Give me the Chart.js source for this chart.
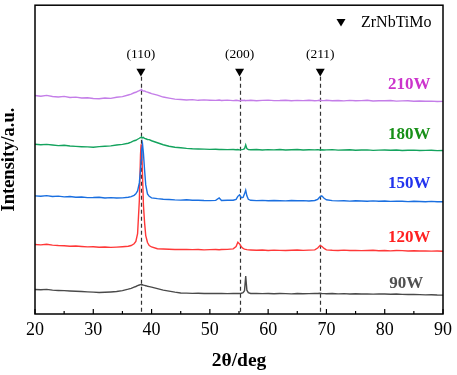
<!DOCTYPE html>
<html>
<head>
<meta charset="utf-8">
<script src="https://cdn.jsdelivr.net/npm/chart.js@4.4.1/dist/chart.umd.min.js"></script>
<style>
  html, body { margin: 0; padding: 0; background: #fff; }
  #wrap { width: 457px; height: 375px; position: relative; }
</style>
</head>
<body>
<div id="wrap"><canvas id="xrd"></canvas></div>
<script>
// 2theta positions shared by every pattern (denser around the peaks)
const twoTheta = [
  20,21,22,23,24,25,26,27,28,29,30,31,32,33,34,35,36,
  36.5,37,37.3,37.6,37.9,38.1,38.2,38.3,38.45,38.6,38.8,39.0,39.3,39.6,
  40,41,42,43,44,45,46,47,48,49,50,51,
  51.6,
  52,53,54,
  54.5,54.8,55.1,55.4,55.7,55.95,56.15,56.35,56.6,
  57,58,59,60,61,62,63,64,65,66,67,68,
  68.5,68.9,69.2,69.6,
  70,71,72,73,74,75,76,77,78,79,80,81,82,83,84,85,86,87,88,89,90
]

// intensities (a.u., already stacked with offsets)
const w210 = [
  220,219.3,220.2,219,218.6,219.2,218,218.4,217.5,217.8,217,216.8,217.6,217.2,218.3,218.9,220.6,
  221.5,222.8,223.3,224.2,225,225.6,225.2,225.8,225,224.6,224.7,224,223.4,222.8,
  222,220.4,218.5,217.4,216.4,216,215.6,215.9,215.2,215.6,215.3,215.1,
  215.5,
  215,215.4,214.9,
  215.2,215,214.7,215.3,215,215.2,214.8,215.1,215,
  215.3,214.8,215.1,215.4,214.9,215,215.3,214.7,215.1,214.9,215.2,214.8,
  215,215.3,215,214.9,
  215.2,214.8,215,214.6,215.1,214.7,214.9,215.2,214.5,214.8,214.7,215,214.4,214.6,214.8,214.3,214.5,214.2,214.4,214,214.1
]
const w180 = [
  171,170.5,170.8,170.2,169.6,169.9,169.2,168.8,168.5,168.3,168,168.6,169,169.3,170.2,170.8,172,
  173,174.5,175,176,177,177.8,177.5,178.2,177.3,177.8,176.8,176.5,175.8,175.6,
  174.5,172.5,170.5,169,168,167.4,166.8,166.4,166.2,166,165.8,165.9,
  165.6,
  165.8,165.5,165.7,
  165.4,165.6,165.3,165.5,165.8,166.5,170.4,166.5,165.5,
  165.4,165.6,165.2,165.5,165.3,165.6,165.1,165.4,165.6,165.2,165.4,165.3,
  165.5,165.2,165.4,165.1,
  165.3,165.5,165,165.2,165.4,164.9,165.1,165.3,164.8,165,165.2,164.9,165.1,164.7,164.9,165,164.6,164.8,164.9,164.5,164.6
]
const w150 = [
  119,118.6,119.2,118.3,118.7,118,118.4,117.6,117.9,117.2,117.3,117.6,116.9,117.2,116.8,117,117.6,
  118.2,119.5,121,124,132,145,155,165,171,162,145,130,121,118.5,
  117,116.2,115.6,115.3,114.9,114.7,115,114.5,114.6,114.3,114.2,114.4,
  116.8,
  114.3,114.5,114.6,
  115.5,118.5,120,117.2,117.5,121,124.7,119,115.5,
  114.5,114.2,114.4,114,114.3,114.1,113.9,114.3,114,114.2,113.8,114.3,
  115.5,118,119,116.5,
  115,114.2,113.9,114.1,113.7,114,113.8,113.5,113.9,113.6,113.8,113.4,113.7,113.5,113.2,113.6,113.3,113.1,113.4,113,113
]
const w120 = [
  70,69.6,70.2,69.4,69,68.8,68.3,68.5,68,67.6,67.8,67.3,67.5,67.1,67.4,67.8,68.3,
  69,70.7,73,81,114,160,171,165,140,110,92,79,72,69,
  67.5,65.7,65.4,65.2,65,64.9,65.1,64.8,64.9,64.6,64.8,64.9,
  64.7,
  65,65.1,65.6,
  68,72.3,70.5,67.6,66,65.4,65.1,64.8,64.6,
  64.5,64.2,64.4,64,64.3,64.1,63.9,64.2,64.4,64.1,64.3,64.6,
  66.5,69,68.2,66,
  64.6,64.2,64,64.3,63.9,64.1,63.8,64,64.2,63.7,63.9,63.6,64,63.8,63.5,63.7,63.4,63.6,63.3,63.5,63.2
]
const w90 = [
  24.7,24.4,24.8,24,23.7,23.5,23.2,22.9,22.6,22.3,22,21.7,21.9,22.2,22.6,23.6,25,
  25.8,27,27.7,28.5,29.2,29.6,29.7,29.4,29.5,29.1,28.8,28.5,28,27.6,
  27,25.5,24,23,22,21.2,21,20.8,20.9,20.6,20.7,20.8,
  20.6,
  20.7,20.5,20.7,
  20.6,20.8,20.7,20.9,21.5,23.5,38.3,24,21.5,
  20.7,20.6,20.5,20.7,20.4,20.6,20.5,20.3,20.6,20.4,20.5,20.6,
  20.7,20.9,20.7,20.5,
  20.4,20.6,20.3,20.5,20.2,20.4,20.1,20.3,20,20.2,20.1,19.9,20.1,19.8,19.6,19.8,19.5,19.3,19.4,19.1,19
]

// ZrNbTiMo reflections
const peakPos = [38.17, 55.1, 68.94]
const peakHkl = ['(110)', '(200)', '(211)']

const seriesNames = ['210W', '180W', '150W', '120W', '90W']
const seriesData = [w210, w180, w150, w120, w90]
const lineColors = ['#c47ee8', '#14a35e', '#1a6fe0', '#ff3838', '#4a4a4a']
const labelColors = ['#cc33cc', '#189018', '#2233ee', '#ff2020', '#505050']
// where the power labels sit (data coords)
const labelX = [84.2, 84.2, 84.2, 84.2, 83.7]
const labelY = [231, 181, 131, 77, 31]

const serif = '"Liberation Serif", "Times New Roman", serif'

function pts(ys) {
  return twoTheta.map((x, i) => ({ x: x, y: ys[i] }))
}

const datasets = seriesData.map((ys, i) => ({
  label: seriesNames[i],
  data: pts(ys),
  borderColor: lineColors[i],
  borderWidth: 1.4,
  pointRadius: 0,
  tension: 0,
  fill: false
}))

// triangle markers above the dashed lines
datasets.push({
  label: 'ZrNbTiMo',
  type: 'scatter',
  data: peakPos.map(p => ({ x: p, y: 244.5 })),
  pointStyle: 'triangle',
  rotation: 180,
  pointRadius: 5.2,
  backgroundColor: '#000',
  borderColor: '#000',
  borderWidth: 0
})

const decor = {
  id: 'decor',
  beforeDatasetsDraw(chart) {
    const { ctx, chartArea, scales } = chart
    const x = scales.x, y = scales.y
    ctx.save()
    ctx.strokeStyle = '#333'
    ctx.lineWidth = 1.2
    ctx.setLineDash([4, 3])
    peakPos.forEach(p => {
      const px = Math.round(x.getPixelForValue(p)) + 0.5
      ctx.beginPath()
      ctx.moveTo(px, y.getPixelForValue(239))
      ctx.lineTo(px, chartArea.bottom)
      ctx.stroke()
    })
    ctx.restore()
  },
  afterDraw(chart) {
    const { ctx, chartArea, scales } = chart
    const x = scales.x, y = scales.y
    ctx.save()
    // frame
    ctx.strokeStyle = '#000'
    ctx.lineWidth = 1.5
    ctx.strokeRect(chartArea.left, chartArea.top, chartArea.right - chartArea.left, chartArea.bottom - chartArea.top)
    // inward ticks
    ctx.lineWidth = 1.2
    for (let v = 20; v <= 90; v += 5) {
      const px = x.getPixelForValue(v)
      const len = v % 10 === 0 ? 5 : 3
      ctx.beginPath()
      ctx.moveTo(px, chartArea.bottom)
      ctx.lineTo(px, chartArea.bottom - len)
      ctx.stroke()
    }
    // hkl labels
    ctx.fillStyle = '#000'
    ctx.font = '13.5px ' + serif
    ctx.textAlign = 'center'
    ctx.textBaseline = 'middle'
    peakPos.forEach((p, i) => {
      ctx.fillText(peakHkl[i], x.getPixelForValue(p), y.getPixelForValue(261))
    })
    // power labels
    ctx.font = 'bold 17px ' + serif
    seriesNames.forEach((n, i) => {
      ctx.fillStyle = labelColors[i]
      ctx.fillText(n, x.getPixelForValue(labelX[i]), y.getPixelForValue(labelY[i]))
    })
    // legend
    const lx = x.getPixelForValue(72.5), ly = y.getPixelForValue(294)
    ctx.fillStyle = '#000'
    ctx.beginPath()
    ctx.moveTo(lx - 4.5, ly - 3)
    ctx.lineTo(lx + 4.5, ly - 3)
    ctx.lineTo(lx, ly + 4.5)
    ctx.closePath()
    ctx.fill()
    ctx.font = '16px ' + serif
    ctx.textAlign = 'left'
    ctx.fillText('ZrNbTiMo', lx + 20, ly + 1)
    ctx.restore()
  }
}

new Chart(document.getElementById('xrd'), {
  type: 'line',
  data: { datasets: datasets },
  plugins: [decor],
  options: {
    responsive: true,
    maintainAspectRatio: false,
    animation: false,
    layout: { padding: { top: 3, right: 11, left: 0, bottom: 0 } },
    plugins: { legend: { display: false }, tooltip: { enabled: false } },
    scales: {
      x: {
        type: 'linear',
        min: 20,
        max: 90,
        grid: { display: false, drawTicks: false },
        border: { display: false },
        ticks: { stepSize: 10, color: '#000', padding: 5, font: { family: serif, size: 18 } },
        title: { display: true, text: '2θ/deg', color: '#000', padding: { top: 0, bottom: 2 },
                 font: { family: serif, size: 19.5, weight: 'bold' } },
        afterFit(scale) { scale.height = 61 }
      },
      y: {
        min: 0,
        max: 311,
        grid: { display: false, drawTicks: false },
        border: { display: false },
        ticks: { display: false },
        title: { display: true, text: 'Intensity/a.u.', color: '#000', padding: 0,
                 font: { family: serif, size: 18.5, weight: 'bold', lineHeight: 1 } },
        afterFit(scale) { scale.width = 35 }
      }
    }
  }
})
</script>
</body>
</html>
